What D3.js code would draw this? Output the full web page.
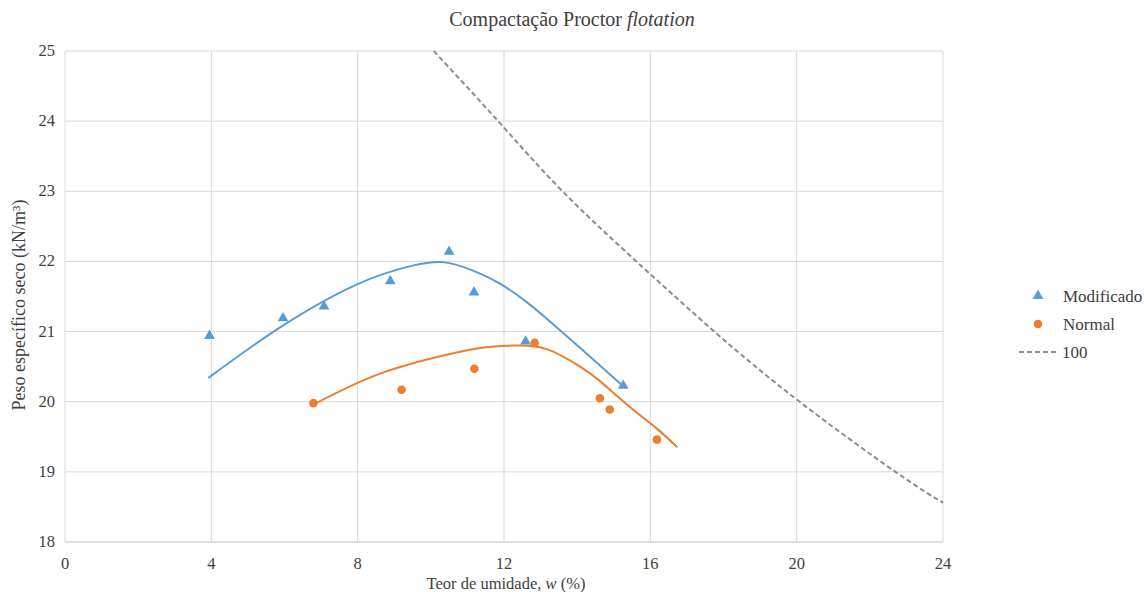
<!DOCTYPE html>
<html>
<head>
<meta charset="utf-8">
<script src="https://cdn.jsdelivr.net/npm/d3@7"></script>
<style>
  body { margin: 0; background: #fff; }
  text { font-family: "Liberation Serif", "Times New Roman", serif; fill: #404040; }
</style>
</head>
<body>
<div id="chart"></div>
<script>
// measured points
const modW = [3.95, 5.96, 7.08, 8.89, 10.5, 11.18, 12.59, 15.26];
const modG = [20.94, 21.19, 21.36, 21.72, 22.14, 21.56, 20.86, 20.23];
const norW = [6.79, 9.2, 11.19, 12.84, 14.62, 14.89, 16.18];
const norG = [19.98, 20.17, 20.47, 20.84, 20.05, 19.89, 19.46];

// trend curves
const modFitW = [3.92, 5.88, 7.97, 9.5, 10.34, 11.1, 11.9, 12.62, 13.2, 14.1, 15.26];
const modFitG = [20.34, 21.06, 21.67, 21.94, 21.99, 21.88, 21.68, 21.42, 21.17, 20.76, 20.22];
const norFitW = [6.79, 8.61, 10.43, 11.4, 12.25, 13.17, 14.08, 14.63, 15.5, 16.17, 16.74];
const norFitG = [19.96, 20.40, 20.67, 20.77, 20.80, 20.75, 20.5, 20.29, 19.9, 19.62, 19.35];

// saturation curve "100"
const satW = [10.08, 11.84, 13.6, 15.62, 17.75, 20.08, 22.7, 24];
const satG = [25, 24, 23, 22, 21, 20, 19, 18.56];

const xTicks = [0, 4, 8, 12, 16, 20, 24];
const yTicks = [18, 19, 20, 21, 22, 23, 24, 25];

const width = 1144, height = 592;
const margin = { top: 51, right: 201, bottom: 50, left: 65 };

const svg = d3.select("#chart").append("svg")
    .attr("width", width)
    .attr("height", height);

const x = d3.scaleLinear().domain([0, 24]).range([margin.left, width - margin.right]);
const y = d3.scaleLinear().domain([18, 25]).range([height - margin.bottom, margin.top]);

// grid
svg.append("g").selectAll("line.h")
    .data(yTicks)
    .enter().append("line")
    .attr("x1", x(0)).attr("x2", x(24))
    .attr("y1", d => y(d)).attr("y2", d => y(d))
    .attr("stroke", d => d === 18 ? "#bfbfbf" : "#d9d9d9")
    .attr("stroke-width", 1);

svg.append("g").selectAll("line.v")
    .data(xTicks)
    .enter().append("line")
    .attr("y1", y(18)).attr("y2", y(25))
    .attr("x1", d => x(d)).attr("x2", d => x(d))
    .attr("stroke", "#d9d9d9")
    .attr("stroke-width", 1);

// tick labels
svg.append("g").selectAll("text")
    .data(yTicks)
    .enter().append("text")
    .attr("x", x(0) - 10)
    .attr("y", d => y(d) + 5)
    .attr("text-anchor", "end")
    .attr("font-size", 16.5)
    .text(d => d);

svg.append("g").selectAll("text")
    .data(xTicks)
    .enter().append("text")
    .attr("x", d => x(d))
    .attr("y", y(18) + 27)
    .attr("text-anchor", "middle")
    .attr("font-size", 16.5)
    .text(d => d);

// titles
const title = svg.append("text")
    .attr("x", 572)
    .attr("y", 26)
    .attr("text-anchor", "middle")
    .attr("font-size", 20);
title.append("tspan").text("Compactação Proctor ");
title.append("tspan").attr("font-style", "italic").text("flotation");

const xTitle = svg.append("text")
    .attr("x", 506)
    .attr("y", 589)
    .attr("text-anchor", "middle")
    .attr("font-size", 16.5);
xTitle.append("tspan").text("Teor de umidade, ");
xTitle.append("tspan").attr("font-style", "italic").text("w");
xTitle.append("tspan").text(" (%)");

svg.append("text")
    .attr("transform", "translate(25, 305) rotate(-90)")
    .attr("text-anchor", "middle")
    .attr("font-size", 18)
    .text("Peso específico seco (kN/m³)");

const line = d3.line()
    .x(d => x(d[0]))
    .y(d => y(d[1]))
    .curve(d3.curveNatural);

const zip = (a, b) => a.map((v, i) => [v, b[i]]);

// saturation line
svg.append("path")
    .datum(zip(satW, satG))
    .attr("d", line)
    .attr("fill", "none")
    .attr("stroke", "#8c8c8c")
    .attr("stroke-width", 2)
    .attr("stroke-dasharray", "5,3");

// trend lines
svg.append("path")
    .datum(zip(modFitW, modFitG))
    .attr("d", line)
    .attr("fill", "none")
    .attr("stroke", "#5b9bd5")
    .attr("stroke-width", 2);

svg.append("path")
    .datum(zip(norFitW, norFitG))
    .attr("d", line)
    .attr("fill", "none")
    .attr("stroke", "#ed7d31")
    .attr("stroke-width", 2);

const tri = d3.symbol().type(d3.symbolTriangle).size(50);

svg.append("g").selectAll("path")
    .data(zip(modW, modG))
    .enter().append("path")
    .attr("d", tri)
    .attr("transform", d => `translate(${x(d[0])},${y(d[1])})`)
    .attr("fill", "#5b9bd5");

svg.append("g").selectAll("circle")
    .data(zip(norW, norG))
    .enter().append("circle")
    .attr("cx", d => x(d[0]))
    .attr("cy", d => y(d[1]))
    .attr("r", 4.3)
    .attr("fill", "#ed7d31");

// legend
const legend = svg.append("g");
legend.append("path")
    .attr("d", tri)
    .attr("transform", "translate(1038,296)")
    .attr("fill", "#5b9bd5");
legend.append("text").attr("x", 1063).attr("y", 302).attr("font-size", 17).text("Modificado");

legend.append("circle")
    .attr("cx", 1038).attr("cy", 324).attr("r", 4.3)
    .attr("fill", "#ed7d31");
legend.append("text").attr("x", 1063).attr("y", 330).attr("font-size", 17).text("Normal");

legend.append("line")
    .attr("x1", 1019).attr("x2", 1058)
    .attr("y1", 352).attr("y2", 352)
    .attr("stroke", "#8c8c8c")
    .attr("stroke-width", 2)
    .attr("stroke-dasharray", "5,3");
legend.append("text").attr("x", 1062).attr("y", 358).attr("font-size", 17).text("100");
</script>
</body>
</html>
